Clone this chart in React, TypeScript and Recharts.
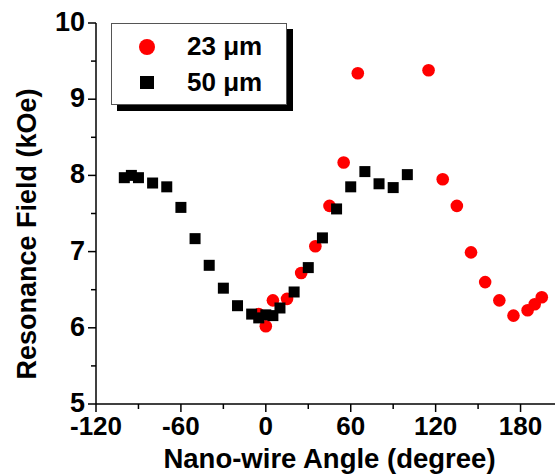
import { Legend, Scatter, ScatterChart, XAxis, YAxis } from "recharts";

// 23 um wire (red circles)
const ANGLE_23 = [-5, 0, 5, 15, 25, 35, 45, 55, 65, 115, 125, 135, 145, 155, 165, 175, 185, 190, 195];
const FIELD_23 = [6.18, 6.02, 6.36, 6.38, 6.72, 7.07, 7.6, 8.17, 9.34, 9.38, 7.95, 7.6, 6.99, 6.6, 6.36, 6.16, 6.23, 6.31, 6.4];

// 50 um wire (black squares)
const ANGLE_50 = [-100, -95, -90, -80, -70, -60, -50, -40, -30, -20, -10, -5, 0, 5, 10, 20, 30, 40, 50, 60, 70, 80, 90, 100];
const FIELD_50 = [7.97, 8.0, 7.97, 7.9, 7.85, 7.58, 7.17, 6.82, 6.52, 6.29, 6.18, 6.13, 6.17, 6.16, 6.26, 6.47, 6.79, 7.18, 7.56, 7.85, 8.05, 7.89, 7.84, 8.01];

const X_TICKS = [-120, -90, -60, -30, 0, 30, 60, 90, 120, 150, 180, 210];
const Y_TICKS = [5, 5.5, 6, 6.5, 7, 7.5, 8, 8.5, 9, 9.5, 10];

const FONT = '"Liberation Sans", Arial, sans-serif';

const data23 = ANGLE_23.map((x, i) => ({ x, y: FIELD_23[i] }));
const data50 = ANGLE_50.map((x, i) => ({ x, y: FIELD_50[i] }));

function XTick(props: any) {
  const { x, y, payload } = props;
  const major = payload.value % 60 === 0;
  return (
    <g>
      <line x1={x} y1={y} x2={x} y2={y + (major ? 8 : 5)} stroke="#000" strokeWidth={1.5} />
      {major && (
        <text x={x} y={y + 31} textAnchor="middle" fontFamily={FONT} fontWeight="bold" fontSize={26} fill="#000">
          {payload.value}
        </text>
      )}
    </g>
  );
}

function YTick(props: any) {
  const { x, y, payload } = props;
  const major = Number.isInteger(payload.value);
  return (
    <g>
      <line x1={x - (major ? 8 : 5)} y1={y} x2={x} y2={y} stroke="#000" strokeWidth={1.5} />
      {major && (
        <text x={x - 11} y={y + 8} textAnchor="end" fontFamily={FONT} fontWeight="bold" fontSize={27} fill="#000">
          {payload.value}
        </text>
      )}
    </g>
  );
}

function LegendBox() {
  return (
    <div
      style={{
        width: 176,
        height: 82,
        boxSizing: "border-box",
        border: "1px solid #555",
        boxShadow: "6px 6px 0 #000",
        background: "#fff",
      }}
    >
      <svg width={174} height={80}>
        <circle cx={35} cy={23} r={8} fill="#ff0000" />
        <rect x={28} y={52} width={14} height={13} fill="#000" />
        <text x={75} y={31} fontFamily={FONT} fontWeight="bold" fontSize={26} fill="#000">
          23 μm
        </text>
        <text x={75} y={67} fontFamily={FONT} fontWeight="bold" fontSize={26} fill="#000">
          50 μm
        </text>
      </svg>
    </div>
  );
}

const RedDot = (p: any) => <circle cx={p.cx} cy={p.cy} r={6.3} fill="#ff0000" />;
const BlackSquare = (p: any) => <rect x={p.cx - 5.5} y={p.cy - 5.5} width={11} height={11} fill="#000" />;

export default function App() {
  return (
    <div style={{ position: "absolute", left: 0, top: 0, width: 555, height: 474, overflow: "hidden", background: "#fff" }}>
      <ScatterChart width={563} height={474} margin={{ top: 23, right: 0, bottom: 0, left: 0 }}>
        <XAxis
          type="number"
          dataKey="x"
          domain={[-120, 210]}
          ticks={X_TICKS}
          interval={0}
          height={70}
          tickSize={0}
          tickMargin={0}
          tickLine={false}
          tick={<XTick />}
          axisLine={{ stroke: "#000", strokeWidth: 1.5 }}
          label={{
            content: (p: any) => (
              <text
                x={p.viewBox.x + p.viewBox.width / 2}
                y={468}
                textAnchor="middle"
                fontFamily={FONT}
                fontWeight="bold"
                fontSize={27.5}
                fill="#000"
              >
                Nano-wire Angle (degree)
              </text>
            ),
          }}
        />
        <YAxis
          type="number"
          dataKey="y"
          domain={[5, 10]}
          ticks={Y_TICKS}
          interval={0}
          width={96}
          tickSize={0}
          tickMargin={0}
          tickLine={false}
          tick={<YTick />}
          axisLine={{ stroke: "#000", strokeWidth: 1.5 }}
          label={{
            content: () => (
              <text
                x={36}
                y={234}
                transform="rotate(-90 36 234)"
                textAnchor="middle"
                fontFamily={FONT}
                fontWeight="bold"
                fontSize={27}
                fill="#000"
              >
                Resonance Field (kOe)
              </text>
            ),
          }}
        />
        <Legend
          layout="vertical"
          align="center"
          verticalAlign="middle"
          content={<LegendBox />}
          wrapperStyle={{ left: 111, top: 23, width: 176, height: 82 }}
        />
        <Scatter name="23 μm" data={data23} shape={RedDot} isAnimationActive={false} />
        <Scatter name="50 μm" data={data50} shape={BlackSquare} isAnimationActive={false} />
      </ScatterChart>
    </div>
  );
}
